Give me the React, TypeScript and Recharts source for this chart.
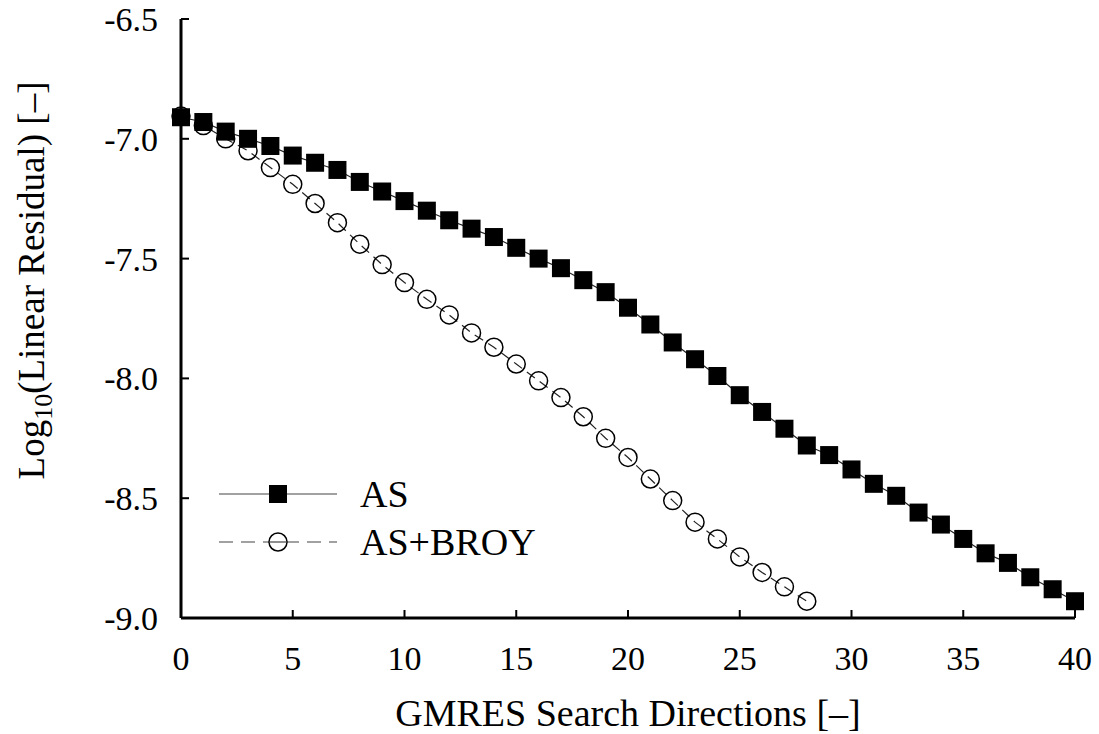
import { Line, LineChart, XAxis, YAxis } from "recharts"

const iterations = [
  0, 1, 2, 3, 4, 5, 6, 7, 8, 9, 10, 11, 12, 13, 14, 15, 16, 17, 18, 19, 20,
  21, 22, 23, 24, 25, 26, 27, 28, 29, 30, 31, 32, 33, 34, 35, 36, 37, 38, 39, 40,
]
const asValues = [
  -6.91, -6.93, -6.97, -7.0, -7.03, -7.07, -7.1, -7.13, -7.18, -7.22, -7.26,
  -7.3, -7.34, -7.375, -7.41, -7.455, -7.5, -7.54, -7.59, -7.64, -7.705,
  -7.775, -7.85, -7.92, -7.99, -8.07, -8.14, -8.21, -8.28, -8.32, -8.38,
  -8.44, -8.49, -8.56, -8.61, -8.67, -8.73, -8.77, -8.83, -8.88, -8.93,
]
const broyValues = [
  -6.905, -6.945, -7.0, -7.05, -7.12, -7.19, -7.27, -7.35, -7.44, -7.525,
  -7.6, -7.67, -7.735, -7.81, -7.87, -7.94, -8.01, -8.08, -8.16, -8.25,
  -8.33, -8.42, -8.51, -8.6, -8.67, -8.745, -8.81, -8.87, -8.93,
]
const xTicks = [0, 5, 10, 15, 20, 25, 30, 35, 40]
const yTicks = [-6.5, -7.0, -7.5, -8.0, -8.5, -9.0]

const data = iterations.map((x, i) => ({ x, as: asValues[i], broy: broyValues[i] }))

const FONT = "Liberation Serif, Tinos, Noto Serif, DejaVu Serif, FreeSerif, Times New Roman, serif"
const tickStyle = { fontFamily: FONT, fontSize: 34, fill: "#000" }

const SquareDot = (props: any) => {
  const { cx, cy, index } = props
  if (cx == null || cy == null) return <g key={"s" + index} />
  return <rect key={"s" + index} x={cx - 9} y={cy - 9} width={18} height={18} fill="#000" />
}

const CircleDot = (props: any) => {
  const { cx, cy, index } = props
  if (cx == null || cy == null) return <g key={"c" + index} />
  return <circle key={"c" + index} cx={cx} cy={cy} r={9} fill="none" stroke="#000" strokeWidth={1.5} />
}

const YLabel = (props: any) => {
  const vb = props.viewBox
  const x = 44
  const y = vb.y + vb.height / 2 - 38
  return (
    <text
      x={x}
      y={y}
      transform={`rotate(-90 ${x} ${y})`}
      textAnchor="middle"
      fontFamily={FONT}
      fontSize={37}
      fill="#000"
    >
      <tspan>Log</tspan>
      <tspan dy={8} fontSize={26}>10</tspan>
      <tspan dy={-8}>(Linear Residual) [–]</tspan>
    </text>
  )
}

// legend drawn as an overlay inside the plot, like gnuplot's key
const LegendBox = () => (
  <svg width={380} height={100} style={{ position: "absolute", left: 210, top: 470 }}>
    <line x1={9} y1={24} x2={127} y2={24} stroke="#444" strokeWidth={1.2} />
    <rect x={59} y={15} width={18} height={18} fill="#000" />
    <text x={150} y={37} fontFamily={FONT} fontSize={38} fill="#000">AS</text>
    <line x1={9} y1={72} x2={127} y2={72} stroke="#444" strokeWidth={1.2} strokeDasharray="14 8" />
    <circle cx={68} cy={72} r={9} fill="#fff" stroke="#000" strokeWidth={1.5} />
    <line x1={59} y1={72} x2={77} y2={72} stroke="#444" strokeWidth={1.2} />
    <text x={150} y={85} fontFamily={FONT} fontSize={38} fill="#000">AS+BROY</text>
  </svg>
)

export default function App() {
  return (
    <div style={{ position: "absolute", left: 0, top: 0, width: 1099, height: 734, background: "#fff" }}>
      <LineChart width={1099} height={734} data={data} margin={{ top: 19, right: 24, bottom: 0, left: 0 }}>
        <XAxis
          xAxisId="b"
          dataKey="x"
          type="number"
          domain={[0, 40]}
          ticks={xTicks}
          height={116}
          tickSize={-8}
          tickMargin={36}
          tick={tickStyle}
          axisLine={{ stroke: "#000", strokeWidth: 3 }}
          tickLine={{ stroke: "#000", strokeWidth: 2 }}
          label={{
            value: "GMRES Search Directions [–]",
            position: "insideBottom",
            offset: 8,
            style: { fontFamily: FONT, fontSize: 38, fill: "#000" },
          }}
        />
        <XAxis
          xAxisId="t"
          orientation="top"
          dataKey="x"
          type="number"
          domain={[0, 40]}
          ticks={xTicks}
          height={0}
          tickSize={-8}
          tickFormatter={() => ""}
          axisLine={{ stroke: "#000", strokeWidth: 3 }}
          tickLine={{ stroke: "#000", strokeWidth: 2 }}
        />
        <YAxis
          yAxisId="l"
          type="number"
          domain={[-9, -6.5]}
          ticks={yTicks}
          width={181}
          tickSize={-8}
          tickMargin={31}
          tick={tickStyle}
          tickFormatter={(v: number) => v.toFixed(1)}
          axisLine={{ stroke: "#000", strokeWidth: 3 }}
          tickLine={{ stroke: "#000", strokeWidth: 2 }}
          label={{ content: <YLabel /> }}
        />
        <YAxis
          yAxisId="r"
          orientation="right"
          type="number"
          domain={[-9, -6.5]}
          ticks={yTicks}
          width={0}
          tickSize={-8}
          tickFormatter={() => ""}
          axisLine={{ stroke: "#000", strokeWidth: 3 }}
          tickLine={{ stroke: "#000", strokeWidth: 2 }}
        />
        <Line
          xAxisId="b"
          yAxisId="l"
          type="linear"
          dataKey="broy"
          stroke="#222"
          strokeWidth={1.2}
          strokeDasharray="10 6"
          dot={<CircleDot />}
          isAnimationActive={false}
        />
        <Line
          xAxisId="b"
          yAxisId="l"
          type="linear"
          dataKey="as"
          stroke="#222"
          strokeWidth={1.2}
          dot={<SquareDot />}
          isAnimationActive={false}
        />
      </LineChart>
      <LegendBox />
    </div>
  )
}
